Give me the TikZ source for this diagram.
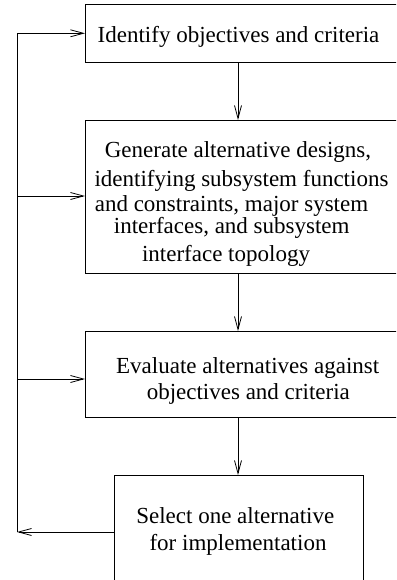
\documentclass[tikz,border=0pt]{standalone}
\usepackage{fontspec}
\setmainfont{Liberation Serif}
\usetikzlibrary{arrows.meta}
\begin{document}
\begin{tikzpicture}[x=1pt,y=-1pt,
  box/.style={draw, line width=0.8pt, rectangle, inner sep=0pt, anchor=north west},
  txt/.style={anchor=base, inner sep=0pt, font=\fontsize{23}{25}\selectfont},
  link/.style={line width=0.8pt},
  arr/.style={line width=0.8pt, -{Straight Barb[length=13pt,width=7pt,line width=0.8pt]}}]
\clip (0,0) rectangle (396,580);
% boxes
\node[box, minimum width=340pt, minimum height=57.4pt] (b1) at (85,4.3) {};
\node[box, minimum width=340pt, minimum height=152.7pt] (b2) at (85,120) {};
\node[box, minimum width=340pt, minimum height=86pt] (b3) at (85,331) {};
\node[box, minimum width=248.7pt, minimum height=140pt] (b4) at (114,475) {};
% texts
\node[txt] (t1) at (238.5,43) {Identify objectives and criteria};
\node[txt] (t2a) at (238,157.7) {Generate alternative designs,};
\node[txt] (t2b) at (241.5,186) {identifying subsystem functions};
\node[txt] (t2c) at (231.5,211) {and constraints, major system};
\node[txt] (t2d) at (231.7,233) {interfaces, and subsystem};
\node[txt] (t2e) at (226,261) {interface topology};
\node[txt] (t3a) at (247.7,373) {Evaluate alternatives against};
\node[txt] (t3b) at (248.3,399.5) {objectives and criteria};
\node[txt] (t4a) at (235.3,523) {Select one alternative};
\node[txt] (t4b) at (238,550) {for implementation};
% main flow
\coordinate (ax) at (238,0);
\draw[arr] (ax |- b1.south) -- (ax |- b2.north);
\draw[arr] (ax |- b2.south) -- (ax |- b3.north);
\draw[arr] (ax |- b3.south) -- (ax |- b4.north);
% feedback
\coordinate (fb) at (17,532);
\coordinate (f1) at (17,33.3);
\coordinate (f2) at (17,196);
\coordinate (f3) at (17,379);
\draw[arr] (b4.west |- fb) -- (fb);
\draw[link] (fb) -- (f1);
\draw[arr] (f1) -- (b1.west |- f1);
\draw[arr] (f2) -- (b2.west |- f2);
\draw[arr] (f3) -- (b3.west |- f3);
\end{tikzpicture}
\end{document}
